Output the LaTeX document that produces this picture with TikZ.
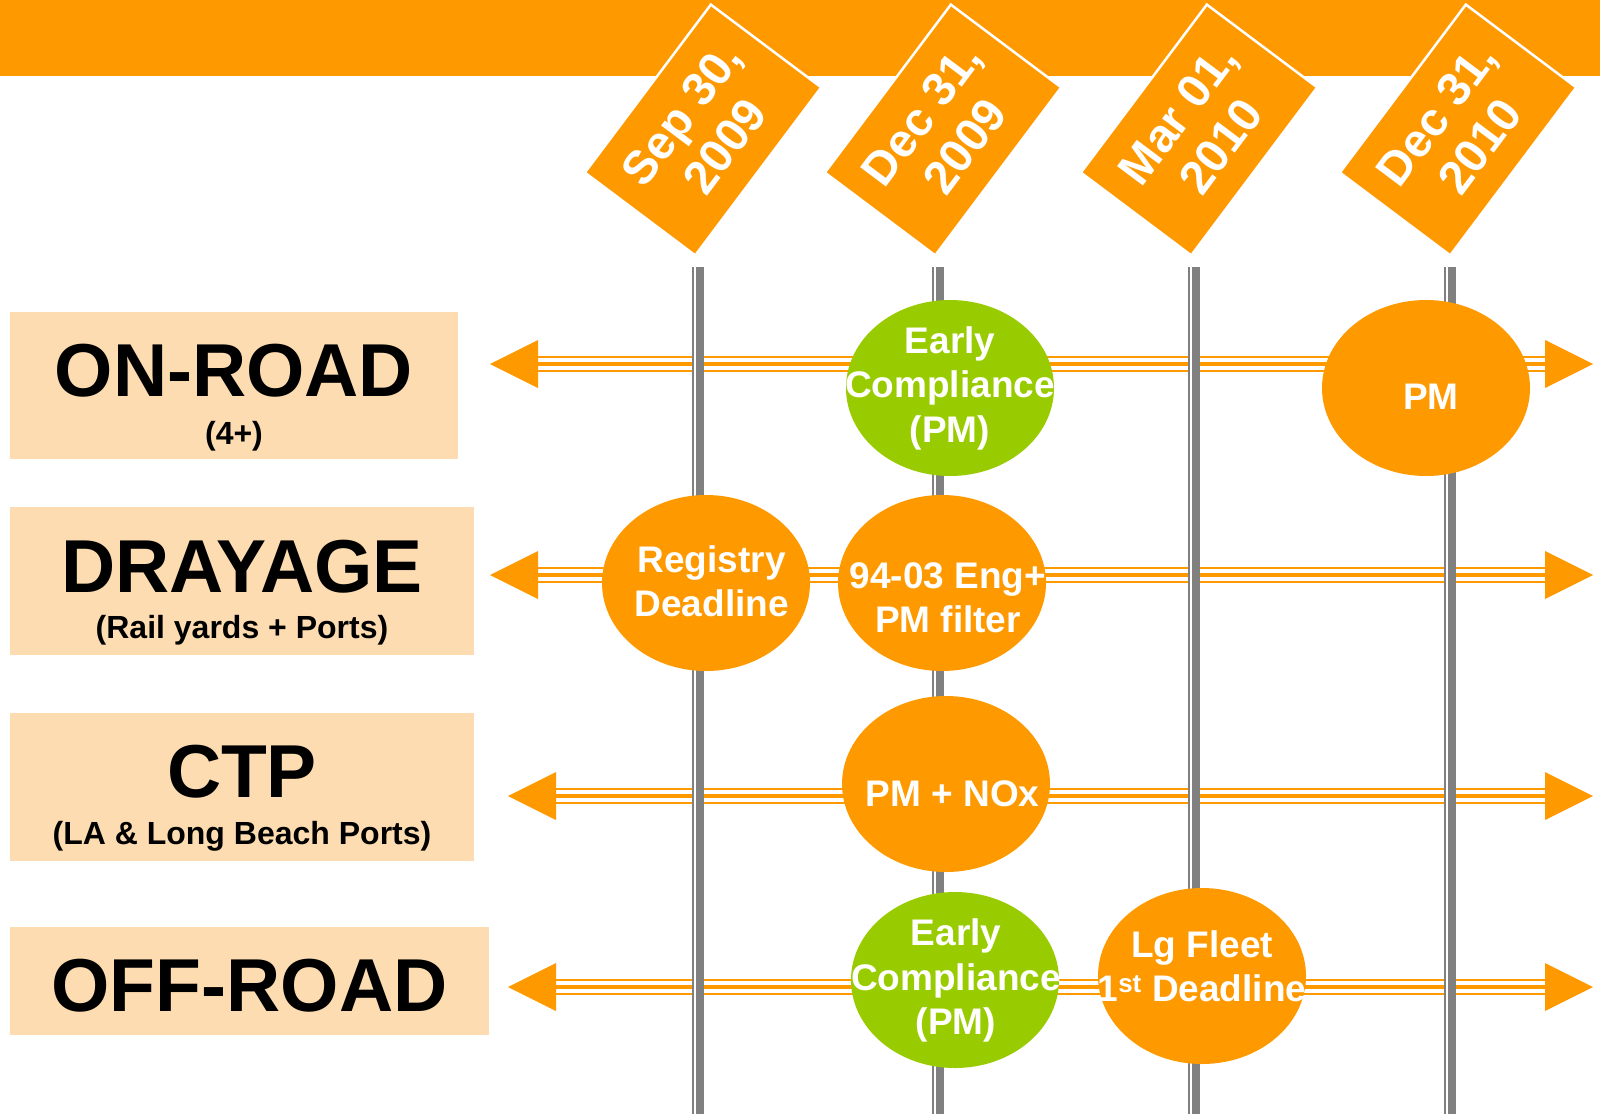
\documentclass[tikz,border=0pt]{standalone}
\usepackage{fontspec}
\setmainfont{Liberation Sans}
\usetikzlibrary{shapes.geometric}
\definecolor{barorange}{RGB}{255,153,0}
\definecolor{lgreen}{RGB}{153,204,0}
\definecolor{peach}{RGB}{252,220,176}
\definecolor{vgray}{RGB}{128,128,128}
\tikzset{
  flagbox/.style={rectangle, rotate=53.13, minimum width=210pt, minimum height=138pt,
    fill=barorange, draw=white, line width=2.5pt, text=white, inner sep=0pt,
    font=\bfseries\fontsize{47}{54}\selectfont, align=center},
  labbox/.style={rectangle, fill=peach, draw=none, inner sep=0pt},
  bigtxt/.style={font=\bfseries\fontsize{75}{80}\selectfont, inner sep=0pt, anchor=base},
  subtxt/.style={font=\bfseries\fontsize{32}{36}\selectfont, inner sep=0pt, anchor=base},
  oval/.style={ellipse, minimum width=208pt, minimum height=176pt, inner sep=0pt, draw=none},
  etxt/.style={text=white, font=\bfseries\fontsize{37}{44.5}\selectfont, align=center, inner sep=0pt},
  shaftbase/.style={draw=barorange, line width=16pt},
  shaftwhite/.style={draw=white, line width=3.4pt, double=barorange, double distance=4.3pt},
  vline/.style={draw=vgray, line width=12pt},
  vwhite/.style={draw=white, line width=2.7pt},
  headfill/.style={fill=barorange}
}
\begin{document}
\begin{tikzpicture}[x=1pt,y=-1pt]
\fill[white] (0,0) rectangle (1600,1114);
\useasboundingbox (0,0) rectangle (1600,1114);

% top bar
\fill[barorange] (0,0) rectangle (1600,76);

% date flags
\node[flagbox] (f1) at (703,130) {Sep 30,\\2009};
\node[flagbox] (f2) at (943,130) {Dec 31,\\2009};
\node[flagbox] (f3) at (1199,130) {Mar 01,\\2010};
\node[flagbox] (f4) at (1458,130) {Dec 31,\\2010};

% label boxes
\node[labbox, minimum width=448pt, minimum height=147pt] (onbox) at (234,385.5) {};
\node[labbox, minimum width=464pt, minimum height=148pt] (drbox) at (242,581) {};
\node[labbox, minimum width=464pt, minimum height=148pt] (ctbox) at (242,787) {};
\node[labbox, minimum width=479pt, minimum height=108pt] (ofbox) at (249.5,981) {};

\node[bigtxt] (ontxt) at (234,396) {ON-ROAD};
\node[subtxt] (onsub) at (234,444) {(4+)};
\node[bigtxt] (drtxt) at (242,592) {DRAYAGE};
\node[subtxt] (drsub) at (242,638) {(Rail yards + Ports)};
\node[bigtxt] (cttxt) at (242,797) {CTP};
\node[subtxt] (ctsub) at (242,844) {(LA \& Long Beach Ports)};
\node[bigtxt] (oftxt) at (249.5,1011) {OFF-ROAD};

% arrow end coordinates
\coordinate (onL) at (490,364);  \coordinate (onR) at (1593,364);
\coordinate (drL) at (490,575);  \coordinate (drR) at (1593,575);
\coordinate (ctL) at (508,796);  \coordinate (ctR) at (1593,796);
\coordinate (ofL) at (508,987);  \coordinate (ofR) at (1593,987);

% shafts
\foreach \a/\b in {onL/onR, drL/drR, ctL/ctR, ofL/ofR}{
  \draw[shaftbase] ([xshift=46pt]\a) -- ([xshift=-46pt]\b);
  \draw[shaftwhite] ([xshift=46pt]\a) -- ([xshift=-46pt]\b);
  \fill[headfill] (\a) -- ++(48,-24) -- ++(0,48) -- cycle;
  \fill[headfill] (\b) -- ++(-48,-24) -- ++(0,48) -- cycle;
}

% vertical time lines
\coordinate (v1t) at (698,267);  \coordinate (v1b) at (698,1114);
\coordinate (v2t) at (938,267);  \coordinate (v2b) at (938,1114);
\coordinate (v3t) at (1194,267); \coordinate (v3b) at (1194,1114);
\coordinate (v4t) at (1450,267); \coordinate (v4b) at (1450,1114);
\foreach \t/\b in {v1t/v1b, v2t/v2b, v3t/v3b, v4t/v4b}{
  \draw[vline] (\t) -- (\b);
  \draw[vwhite] ([xshift=-2.95pt]\t) -- ([xshift=-2.95pt]\b);
}

% milestone ellipses
\node[oval, fill=lgreen] (ec1) at (950,388) {};
\node[oval, fill=barorange] (pm1) at (1426,388) {};
\node[oval, fill=barorange] (reg) at (706,583) {};
\node[oval, fill=barorange] (eng) at (942,583) {};
\node[oval, fill=barorange] (nox) at (946,784) {};
\node[oval, fill=lgreen] (ec2) at (955,980) {};
\node[oval, fill=barorange] (lgf) at (1202,976) {};

\node[etxt] (ec1t) at (950,388) {Early\\Compliance\\(PM)};
\node[etxt] (pm1t) at (1431,396.7) {PM};
\node[etxt] (regt) at (711.7,581.2) {Registry\\Deadline};
\node[etxt] (engt) at (948,598) {94-03 Eng+\\PM filter};
\node[etxt] (noxt) at (952.7,793.8) {PM + NOx};
\node[etxt] (ec2t) at (956,980.7) {Early\\Compliance\\(PM)};
\node[etxt] (lgft) at (1202,966.4) {Lg Fleet\\1\textsuperscript{st} Deadline};
\end{tikzpicture}
\end{document}
